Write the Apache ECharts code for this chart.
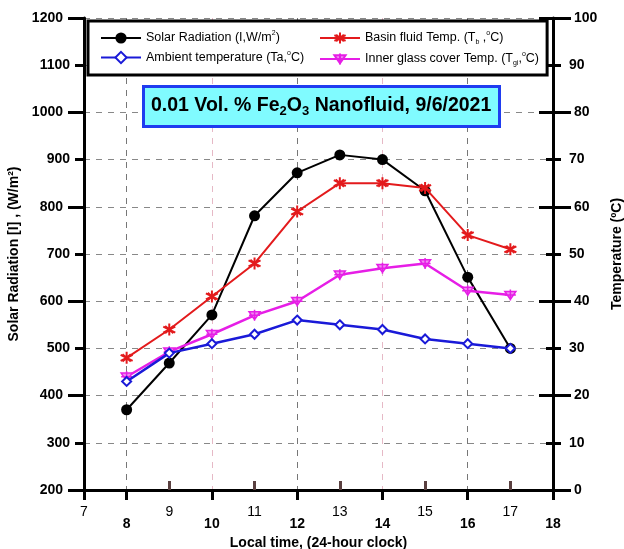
<!DOCTYPE html>
<html><head><meta charset="utf-8">
<script src="https://cdn.jsdelivr.net/npm/echarts@6/dist/echarts.min.js"></script>
<style>html,body{margin:0;padding:0;background:#fff}#c{width:624px;height:549px}</style>
</head><body><div id="c"></div>
<script>
var hours = [8, 9, 10, 11, 12, 13, 14, 15, 16, 17];
var solarRadiation = [370, 469, 571, 781, 872, 910, 900, 834, 651, 500];
var ambientTemp = [23, 29, 31, 33, 36, 35, 34, 32, 31, 30];
var basinTemp = [28, 34, 41, 48, 59, 65, 65, 64, 54, 51];
var glassTemp = [24, 29.3, 33, 37, 40, 45.6, 47, 48, 42.2, 41.3];
var xTicksOutside = [7, 8, 10, 12, 14, 16, 18];
var xTicksInside = [9, 11, 13, 15, 17];

function pairs(vals) { return hours.map(function (h, i) { return [h, vals[i]]; }); }

var F = 'Liberation Sans, Arial, sans-serif';
var chart = echarts.init(document.getElementById('c'));
var G = { left: 84, right: 71, top: 18, bottom: 59, containLabel: false, outerBoundsMode: 'none' };

var legendText = {
  'Solar Radiation (I,W/m²)': '{n|Solar Radiation (I,W/m}{p|2}{n|)}',
  'Ambient temperature (Ta,°C)': '{n|Ambient temperature (Ta,}{p|o}{n|C)}',
  'Basin fluid Temp. (Tb ,°C)': '{n|Basin fluid Temp. (T}{s|b}{n| ,}{p|o}{n|C)}',
  'Inner glass cover Temp. (Tgi,°C)': '{n|Inner glass cover Temp. (T}{s|gi}{n|,}{p|o}{n|C)}'
};
var legRich = {
  n: { fontSize: 12.5, fontFamily: F, color: '#000', lineHeight: 16 },
  s: { fontSize: 7, fontFamily: F, color: '#000', verticalAlign: 'bottom', lineHeight: 16 },
  p: { fontSize: 7, fontFamily: F, color: '#000', verticalAlign: 'top', lineHeight: 16 }
};

var option = {
  animation: false,
  backgroundColor: '#fff',
  title: {
    text: '{n|0.01 Vol. % Fe}{s|2}{n|O}{s|3}{n| Nanofluid, 9/6/2021}',
    left: 143, top: 84,
    backgroundColor: '#80fbff', borderColor: '#1f3cf0', borderWidth: 3,
    padding: [10, 8, 9, 8],
    textStyle: { rich: {
      n: { fontSize: 19.5, fontWeight: 'bold', fontFamily: F, color: '#000', lineHeight: 24 },
      s: { fontSize: 13, fontWeight: 'bold', fontFamily: F, color: '#000', verticalAlign: 'bottom', lineHeight: 24 }
    } },
    z: 10
  },
  legend: [{
    data: ['Solar Radiation (I,W/m²)', 'Ambient temperature (Ta,°C)'],
    orient: 'vertical', left: 88, top: 21,
    backgroundColor: '#fff', borderColor: '#000', borderWidth: 3,
    padding: [9, 243, 11, 12],
    itemWidth: 40, itemHeight: 14, itemGap: 5,
    textStyle: { width: 170, rich: legRich },
    formatter: function (n) { return legendText[n]; },
    z: 8
  }, {
    data: ['Basin fluid Temp. (Tb ,°C)', 'Inner glass cover Temp. (Tgi,°C)'],
    orient: 'vertical', left: 307, top: 21,
    padding: [9, 5, 11, 12],
    itemWidth: 40, itemHeight: 14, itemGap: 5,
    textStyle: { rich: legRich },
    formatter: function (n) { return legendText[n]; },
    z: 9
  }],
  grid: G,
  xAxis: [{
    type: 'value', min: 7, max: 18, interval: 1,
    name: 'Local time, (24-hour clock)', nameLocation: 'middle', nameGap: 40,
    nameTextStyle: { fontSize: 14, fontWeight: 'bold', fontFamily: F, color: '#000' },
    axisLine: { onZero: false, lineStyle: { color: '#000', width: 3 } },
    axisTick: { show: true, inside: false, length: 10, customValues: xTicksOutside, lineStyle: { color: '#000', width: 3 } },
    axisLabel: {
      margin: 15, color: '#000', fontFamily: F, fontSize: 14,
      formatter: function (v) { return v % 2 === 0 ? '{e|' + v + '}' : '{o|' + v + '}'; },
      rich: {
        e: { fontSize: 14, fontWeight: 'bold', fontFamily: F, color: '#000', padding: [12, 0, 0, 0] },
        o: { fontSize: 14, fontFamily: F, color: '#000' }
      }
    },
    splitLine: { show: true, lineStyle: { type: [6, 6], color: ['#e6b9c6', '#777'], width: 1 } }
  }, {
    type: 'value', min: 7, max: 18, interval: 1, position: 'bottom',
    axisLine: { show: false },
    axisTick: { show: true, inside: true, length: 9, customValues: xTicksInside, lineStyle: { color: '#5a4040', width: 3 } },
    axisLabel: { show: false }, splitLine: { show: false }
  }],
  yAxis: [{
    type: 'value', min: 200, max: 1200, interval: 100, position: 'left',
    name: 'Solar Radiation [I] , (W/m²)', nameLocation: 'middle', nameGap: 59, nameRotate: 90,
    nameTextStyle: { fontSize: 14, fontWeight: 'bold', fontFamily: F, color: '#000' },
    axisLine: { show: true, lineStyle: { color: '#000', width: 3 } },
    axisTick: { show: true, length: 9, lineStyle: { color: '#000', width: 3 } },
    axisLabel: {
      margin: 14, color: '#000', fontFamily: F, fontSize: 14, fontWeight: 'bold',
      formatter: function (v) { return v % 200 === 0 ? '{e|' + v + '}' : '{o|' + v + '}'; },
      rich: {
        e: { fontSize: 14, fontWeight: 'bold', fontFamily: F, color: '#000', padding: [0, 7, 0, 0] },
        o: { fontSize: 14, fontWeight: 'bold', fontFamily: F, color: '#000' }
      }
    },
    splitLine: { show: true, lineStyle: { type: [6, 6], color: '#888', width: 1 } }
  }, {
    type: 'value', min: 200, max: 1200, interval: 200, position: 'left',
    axisLine: { show: false },
    axisTick: { show: true, length: 16, lineStyle: { color: '#000', width: 3 } },
    axisLabel: { show: false }, splitLine: { show: false }
  }, {
    type: 'value', min: 0, max: 100, interval: 10, position: 'right',
    name: 'Temperature (ºC)', nameLocation: 'middle', nameGap: 57, nameRotate: 90,
    nameTextStyle: { fontSize: 14, fontWeight: 'bold', fontFamily: F, color: '#000' },
    axisLine: { show: true, lineStyle: { color: '#000', width: 3 } },
    axisTick: { show: true, length: 8, lineStyle: { color: '#000', width: 3 } },
    axisLabel: {
      margin: 16, color: '#000', fontFamily: F, fontSize: 14, fontWeight: 'bold',
      formatter: function (v) { return v % 20 === 0 ? '{e|' + v + '}' : '{o|' + v + '}'; },
      rich: {
        e: { fontSize: 14, fontWeight: 'bold', fontFamily: F, color: '#000', padding: [0, 0, 0, 5] },
        o: { fontSize: 14, fontWeight: 'bold', fontFamily: F, color: '#000' }
      }
    },
    splitLine: { show: false }
  }, {
    type: 'value', min: 0, max: 100, interval: 20, position: 'right',
    axisLine: { show: false },
    axisTick: { show: true, length: 18, lineStyle: { color: '#000', width: 3 } },
    axisLabel: { show: false }, splitLine: { show: false }
  }, {
    type: 'value', min: 0, max: 100, interval: 10, position: 'right',
    axisLine: { show: false },
    axisTick: { show: true, inside: true, length: 7, lineStyle: { color: '#000', width: 3 } },
    axisLabel: { show: false }, splitLine: { show: false }
  }, {
    type: 'value', min: 0, max: 100, interval: 20, position: 'right',
    axisLine: { show: false },
    axisTick: { show: true, inside: true, length: 14, lineStyle: { color: '#000', width: 3 } },
    axisLabel: { show: false }, splitLine: { show: false }
  }],
  series: [{
    name: 'Solar Radiation (I,W/m²)', type: 'line', yAxisIndex: 0,
    data: pairs(solarRadiation),
    symbol: 'circle', symbolSize: 11,
    lineStyle: { color: '#000', width: 2 }, itemStyle: { color: '#000' }, z: 2
  }, {
    name: 'Inner glass cover Temp. (Tgi,°C)', type: 'line', yAxisIndex: 2,
    data: pairs(glassTemp),
    symbol: 'path://M-8,-6L8,-6L0,7ZM0,-9L0,9M-8,0L8,0', symbolSize: 11,
    lineStyle: { color: '#e61ee6', width: 2.5 },
    itemStyle: { color: '#f08cf0', borderColor: '#e61ee6', borderWidth: 1.5 }, z: 3
  }, {
    name: 'Ambient temperature (Ta,°C)', type: 'line', yAxisIndex: 2,
    data: pairs(ambientTemp),
    symbol: 'emptyDiamond', symbolSize: 9,
    lineStyle: { color: '#1a1ad8', width: 2.5 },
    itemStyle: { color: '#1a1ad8', borderWidth: 2 }, z: 4
  }, {
    name: 'Basin fluid Temp. (Tb ,°C)', type: 'line', yAxisIndex: 2,
    data: pairs(basinTemp),
    symbol: 'path://M0,-10L0,10M-8.66,-5L8.66,5M-8.66,5L8.66,-5M-6,-6L6,6M-6,6L6,-6', symbolSize: 12,
    lineStyle: { color: '#e31a1c', width: 2 },
    itemStyle: { color: '#e31a1c', borderColor: '#e31a1c', borderWidth: 2 }, z: 5
  }]
};
chart.setOption(option);
</script>
</body></html>
